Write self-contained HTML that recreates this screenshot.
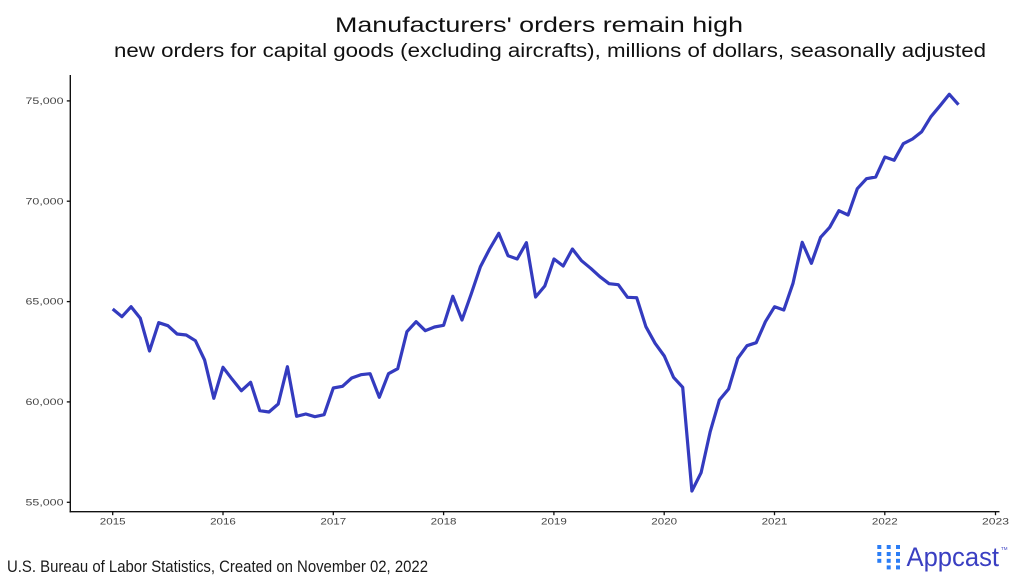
<!DOCTYPE html>
<html>
<head>
<meta charset="utf-8">
<style>
  html, body { margin: 0; padding: 0; background: #ffffff; }
  body { width: 1024px; height: 582px; overflow: hidden; }
  svg { display: block; }
  text { font-family: "Liberation Sans", "DejaVu Sans", sans-serif; }
</style>
</head>
<body>
<svg width="1024" height="582" viewBox="0 0 1024 582" xmlns="http://www.w3.org/2000/svg">
  <rect x="0" y="0" width="1024" height="582" fill="#ffffff"/>

  <!-- Titles -->
  <text x="335" y="32" font-size="21" fill="#111111" textLength="408" lengthAdjust="spacingAndGlyphs">Manufacturers' orders remain high</text>
  <text x="114" y="57" font-size="19" fill="#111111" textLength="872" lengthAdjust="spacingAndGlyphs">new orders for capital goods (excluding aircrafts), millions of dollars, seasonally adjusted</text>

  <!-- Axes -->
  <line x1="70.3" y1="75" x2="70.3" y2="512.4" stroke="#111" stroke-width="1.4"/>
  <line x1="69.6" y1="511.7" x2="999.5" y2="511.7" stroke="#111" stroke-width="1.4"/>

  <!-- Y ticks -->
  <g stroke="#111" stroke-width="1.3">
    <line x1="66.8" y1="100.9" x2="70.3" y2="100.9"/>
    <line x1="66.8" y1="201.2" x2="70.3" y2="201.2"/>
    <line x1="66.8" y1="301.6" x2="70.3" y2="301.6"/>
    <line x1="66.8" y1="401.9" x2="70.3" y2="401.9"/>
    <line x1="66.8" y1="502.3" x2="70.3" y2="502.3"/>
  </g>
  <g font-size="8.8" fill="#444444">
    <text x="25.5" y="104" textLength="38" lengthAdjust="spacingAndGlyphs">75,000</text>
    <text x="25.5" y="204.3" textLength="38" lengthAdjust="spacingAndGlyphs">70,000</text>
    <text x="25.5" y="304.7" textLength="38" lengthAdjust="spacingAndGlyphs">65,000</text>
    <text x="25.5" y="405" textLength="38" lengthAdjust="spacingAndGlyphs">60,000</text>
    <text x="25.5" y="505.4" textLength="38" lengthAdjust="spacingAndGlyphs">55,000</text>
  </g>

  <!-- X ticks -->
  <g stroke="#111" stroke-width="1.3">
    <line x1="112.7" y1="511.7" x2="112.7" y2="515.2"/>
    <line x1="223.0" y1="511.7" x2="223.0" y2="515.2"/>
    <line x1="333.3" y1="511.7" x2="333.3" y2="515.2"/>
    <line x1="443.6" y1="511.7" x2="443.6" y2="515.2"/>
    <line x1="553.9" y1="511.7" x2="553.9" y2="515.2"/>
    <line x1="664.2" y1="511.7" x2="664.2" y2="515.2"/>
    <line x1="774.5" y1="511.7" x2="774.5" y2="515.2"/>
    <line x1="884.8" y1="511.7" x2="884.8" y2="515.2"/>
    <line x1="995.5" y1="511.7" x2="995.5" y2="515.2"/>
  </g>
  <g font-size="9.5" fill="#444444">
    <text x="99.8" y="524.5" textLength="25.8" lengthAdjust="spacingAndGlyphs">2015</text>
    <text x="210.1" y="524.5" textLength="25.8" lengthAdjust="spacingAndGlyphs">2016</text>
    <text x="320.4" y="524.5" textLength="25.8" lengthAdjust="spacingAndGlyphs">2017</text>
    <text x="430.7" y="524.5" textLength="25.8" lengthAdjust="spacingAndGlyphs">2018</text>
    <text x="541.0" y="524.5" textLength="25.8" lengthAdjust="spacingAndGlyphs">2019</text>
    <text x="651.3" y="524.5" textLength="25.8" lengthAdjust="spacingAndGlyphs">2020</text>
    <text x="761.6" y="524.5" textLength="25.8" lengthAdjust="spacingAndGlyphs">2021</text>
    <text x="871.9" y="524.5" textLength="25.8" lengthAdjust="spacingAndGlyphs">2022</text>
    <text x="982.0" y="524.5" textLength="27" lengthAdjust="spacingAndGlyphs">2023</text>
  </g>

  <!-- Data line -->
  <polyline fill="none" stroke="#343bbf" stroke-width="3.2" stroke-linejoin="round" stroke-linecap="butt"
    points="112.7,309 121.9,316.7 131.1,306.7 140.3,318.3 149.5,351 158.7,322.7 167.9,325.7 177.1,334 186.2,335 195.4,340.7 204.6,360 213.8,398.3 223.0,367.3 232.2,379.3 241.4,390.7 250.6,382.3 259.8,410.7 269.0,412 278.2,404 287.4,366.7 296.6,416.3 305.8,414 314.9,416.7 324.1,414.7 333.3,388 342.5,386.3 351.7,378 360.9,374.7 370.1,373.7 379.3,397.3 388.5,373.7 397.7,368.7 406.9,331.7 416.1,321.7 425.3,330.7 434.5,327 443.6,325.3 452.8,296.3 462.0,320 471.2,294 480.4,266.7 489.6,249 498.8,233.3 508.0,255.7 517.2,259 526.4,242.7 535.6,297 544.8,286 554.0,259 563.2,266 572.4,249 581.5,260.7 590.7,268.3 599.9,276.7 609.1,283.7 618.3,284.7 627.5,297.3 636.7,297.7 645.9,326.7 655.1,343.3 664.3,356 673.5,377.3 682.7,387.3 691.9,491 701.1,472.7 710.2,431.7 719.4,400 728.6,389 737.8,358.3 747.0,345.7 756.2,342.7 765.4,321.7 774.6,306.7 783.8,310 793.0,283.3 802.2,242.3 811.4,263.3 820.6,237.3 829.7,227.3 838.9,210.7 848.1,215 857.3,188.7 866.5,178.7 875.7,177 884.9,157 894.1,160.3 903.3,143.7 912.5,139 921.7,131.7 930.9,116.7 940.1,105.7 949.3,94.3 958.5,104.7"/>

  <!-- Footer -->
  <text x="7" y="572" font-size="17" fill="#1a1a1a" textLength="421" lengthAdjust="spacingAndGlyphs">U.S. Bureau of Labor Statistics, Created on November 02, 2022</text>

  <!-- Appcast logo -->
  <g fill="#2b7df5">
    <rect x="877.3" y="545" width="4" height="4"/>
    <rect x="877.3" y="552" width="4" height="4"/>
    <rect x="877.3" y="558.8" width="4" height="4"/>
    <rect x="886.7" y="545" width="4" height="4"/>
    <rect x="886.7" y="552" width="4" height="4"/>
    <rect x="886.7" y="558.8" width="4" height="4"/>
    <rect x="886.7" y="565.4" width="4" height="4"/>
    <rect x="896" y="545" width="4" height="4"/>
    <rect x="896" y="552" width="4" height="4"/>
    <rect x="896" y="558.8" width="4" height="4"/>
    <rect x="896" y="565.4" width="4" height="4"/>
  </g>
  <text x="906.5" y="566" font-size="27" fill="#3a3fc2" textLength="92.5" lengthAdjust="spacingAndGlyphs">Appcast</text>
  <text x="1001" y="550" font-size="4.5" fill="#3a3fc2">TM</text>
</svg>
</body>
</html>
